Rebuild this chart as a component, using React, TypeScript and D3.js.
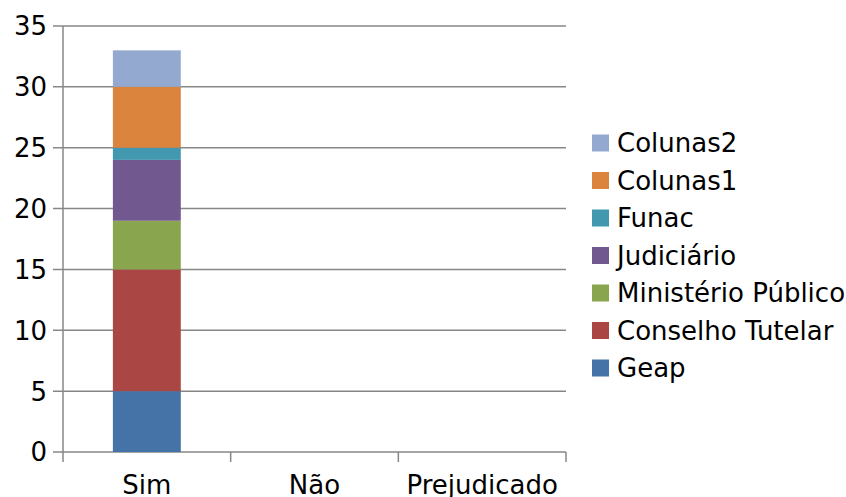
import React from "react";
import { scaleBand, scaleLinear, stack } from "d3";

const categories = ["Sim", "Não", "Prejudicado"];
const seriesNames = [
  "Geap",
  "Conselho Tutelar",
  "Ministério Público",
  "Judiciário",
  "Funac",
  "Colunas1",
  "Colunas2",
];
const seriesColors = [
  "#4572A7",
  "#AA4643",
  "#89A54E",
  "#71588F",
  "#4198AF",
  "#DB843D",
  "#93A9CF",
];
// one row per category, values in seriesNames order
const geap = [5, 0, 0];
const conselhoTutelar = [10, 0, 0];
const ministerioPublico = [4, 0, 0];
const judiciario = [5, 0, 0];
const funac = [1, 0, 0];
const colunas1 = [5, 0, 0];
const colunas2 = [3, 0, 0];
const yTicks = [0, 5, 10, 15, 20, 25, 30, 35];

const width = 846;
const height = 497;
const margin = { left: 63, right: 280, top: 26, bottom: 45 };

const App = () => {
  const seriesValues = [
    geap,
    conselhoTutelar,
    ministerioPublico,
    judiciario,
    funac,
    colunas1,
    colunas2,
  ];
  const rows = categories.map((c, i) => {
    const row: any = { category: c };
    seriesNames.forEach((s, j) => (row[s] = seriesValues[j][i]));
    return row;
  });
  const stacked = stack().keys(seriesNames)(rows);

  const x = scaleBand()
    .domain(categories)
    .range([margin.left, width - margin.right])
    .paddingInner(0)
    .paddingOuter(0);
  const y = scaleLinear()
    .domain([0, 35])
    .range([height - margin.bottom, margin.top]);

  const barW = x.bandwidth() * 0.405;
  const x0 = margin.left;
  const x1 = width - margin.right;
  const gridColor = "#878787";
  const font = "DejaVu Sans, sans-serif";
  const fs = 26;

  return (
    <svg
      width={width}
      height={height}
      style={{ position: "absolute", left: 0, top: 0, background: "#fff" }}
      fontFamily={font}
    >
      {yTicks.map((t) => (
        <g key={t}>
          <line
            x1={x0 - 10}
            x2={x1}
            y1={y(t)}
            y2={y(t)}
            stroke={gridColor}
            strokeWidth={1.5}
          />
          <text
            x={x0 - 16}
            y={y(t)}
            dy="0.36em"
            textAnchor="end"
            fontSize={fs}
            fill="#000"
          >
            {t}
          </text>
        </g>
      ))}
      <line
        x1={x0}
        x2={x0}
        y1={y(35)}
        y2={y(0) + 10}
        stroke={gridColor}
        strokeWidth={1.5}
      />
      {categories.map((c) => (
        <line
          key={c}
          x1={(x(c) as number) + x.bandwidth()}
          x2={(x(c) as number) + x.bandwidth()}
          y1={y(0)}
          y2={y(0) + 10}
          stroke={gridColor}
          strokeWidth={1.5}
        />
      ))}
      {stacked.map((layer, j) => (
        <g key={seriesNames[j]} fill={seriesColors[j]}>
          {layer.map((d, i) =>
            d[1] - d[0] > 0 ? (
              <rect
                key={i}
                x={(x(categories[i]) as number) + (x.bandwidth() - barW) / 2}
                width={barW}
                y={y(d[1])}
                height={y(d[0]) - y(d[1])}
              />
            ) : null
          )}
        </g>
      ))}
      {categories.map((c) => (
        <text
          key={c}
          x={(x(c) as number) + x.bandwidth() / 2}
          y={494}
          textAnchor="middle"
          fontSize={fs}
          fill="#000"
        >
          {c}
        </text>
      ))}
      {seriesNames
        .slice()
        .reverse()
        .map((s, k) => {
          const j = seriesNames.length - 1 - k;
          const cy = 143 + k * 37.5;
          return (
            <g key={s}>
              <rect
                x={592}
                y={cy - 8.5}
                width={17}
                height={17}
                fill={seriesColors[j]}
              />
              <text x={617} y={cy} dy="0.36em" fontSize={fs} fill="#000">
                {s}
              </text>
            </g>
          );
        })}
    </svg>
  );
};

export default App;
